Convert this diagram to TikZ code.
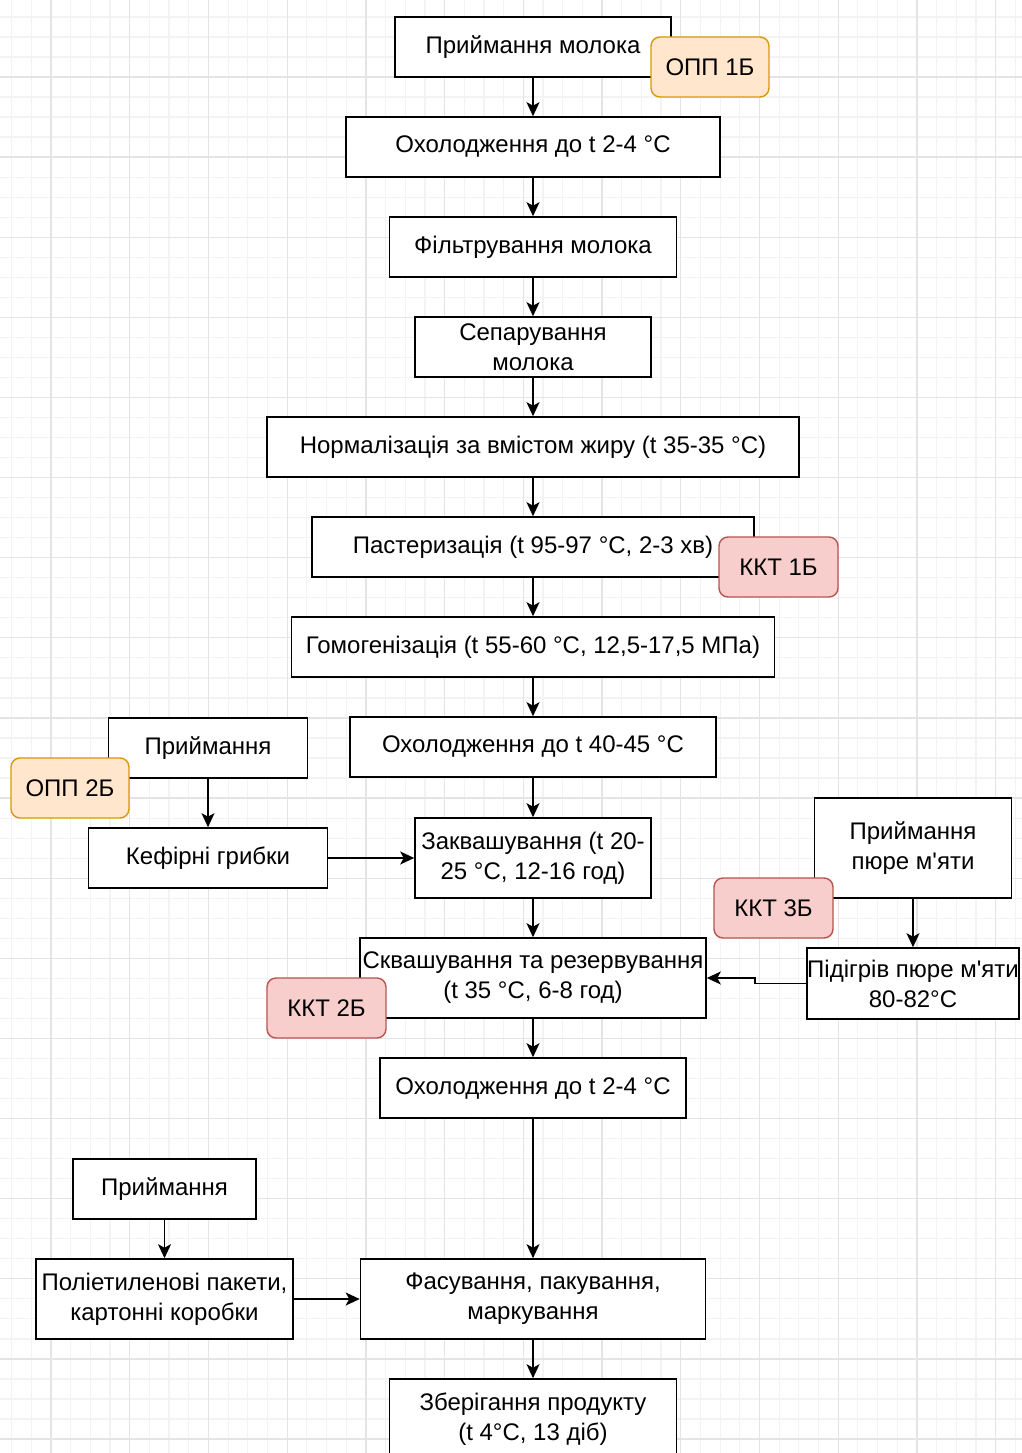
\documentclass[tikz,border=0pt]{standalone}
\usepackage{fontspec}
\setmainfont{Liberation Sans}[Ligatures=TeXOff]
\usetikzlibrary{arrows.meta}
\definecolor{oppfill}{HTML}{FFE6CC}
\definecolor{oppdraw}{HTML}{D79B00}
\definecolor{kktfill}{HTML}{F8CECC}
\definecolor{kktdraw}{HTML}{B85450}
\definecolor{gridminor}{HTML}{F3F3F3}
\definecolor{gridmajor}{HTML}{E4E4E4}
\tikzset{
  stepbox/.style={draw=black, line width=1.6pt, fill=white, inner sep=0pt, align=center,
    font=\fontsize{24}{30}\selectfont},
  oppbox/.style={draw=oppdraw, fill=oppfill, line width=1.4pt, rounded corners=9pt,
    inner sep=0pt, minimum width=118pt, minimum height=60pt, font=\fontsize{24}{30}\selectfont},
  kktbox/.style={draw=kktdraw, fill=kktfill, line width=1.4pt, rounded corners=9pt,
    inner sep=0pt, minimum width=119pt, minimum height=60pt, font=\fontsize{24}{30}\selectfont},
  arr/.style={draw=black, line width=1.6pt, -{Stealth[length=14pt,width=13pt,inset=3.5pt]}},
}
\begin{document}
\begin{tikzpicture}[x=1pt,y=-1pt]
\useasboundingbox (0,0) rectangle (1022,1453);
\clip (0,0) rectangle (1022,1453);
\fill[white] (0,0) rectangle (1022,1453);
% grid
\foreach \i in {-2,...,49} {
  \pgfmathsetmacro\xx{51+19.68*\i}
  \draw[gridminor, line width=1.2pt] (\xx,0) -- (\xx,1453);
}
\foreach \i in {-3,...,69} {
  \pgfmathsetmacro\yy{77+20.03*\i}
  \draw[gridminor, line width=1.2pt] (0,\yy) -- (1022,\yy);
}
\foreach \i in {0,...,12} {
  \pgfmathsetmacro\xx{51+78.72*\i}
  \draw[gridmajor, line width=1.3pt] (\xx,0) -- (\xx,1453);
}
\foreach \i in {0,...,17} {
  \pgfmathsetmacro\yy{77+80.12*\i}
  \draw[gridmajor, line width=1.3pt] (0,\yy) -- (1022,\yy);
}

% main column
\node[stepbox, minimum width=276pt, minimum height=60pt] (a1) at (533,47) {Приймання молока};
\node[stepbox, minimum width=374pt, minimum height=60pt] (a2) at (533,147) {Охолодження до t 2-4 °C};
\node[stepbox, minimum width=287pt, minimum height=60pt] (a3) at (533,247) {Фільтрування молока};
\node[stepbox, minimum width=236pt, minimum height=60pt] (a4) at (533,347) {Сепарування\\молока};
\node[stepbox, minimum width=532pt, minimum height=60pt] (a5) at (533,447) {Нормалізація за вмістом жиру (t 35-35 °C)};
\node[stepbox, minimum width=442pt, minimum height=60pt] (a6) at (533,547) {Пастеризація (t 95-97 °C, 2-3 хв)};
\node[stepbox, minimum width=483pt, minimum height=60pt] (a7) at (533,647) {Гомогенізація (t 55-60 °C, 12,5-17,5 МПа)};
\node[stepbox, minimum width=366pt, minimum height=60pt] (a8) at (533,747) {Охолодження до t 40-45 °C};
\node[stepbox, minimum width=236pt, minimum height=80pt] (a9) at (533,858) {Заквашування (t 20-\\25 °C, 12-16 год)};
\node[stepbox, minimum width=346pt, minimum height=80pt] (a10) at (533,978) {Сквашування та резервування\\(t 35 °C, 6-8 год)};
\node[stepbox, minimum width=306pt, minimum height=60pt] (a11) at (533,1088) {Охолодження до t 2-4 °C};
\node[stepbox, minimum width=345pt, minimum height=80pt] (a12) at (533,1299) {Фасування, пакування,\\маркування};
\node[stepbox, minimum width=287pt, minimum height=80pt] (a13) at (533,1419) {Зберігання продукту\\(t 4°C, 13 діб)};

% left branch (kefir)
\node[stepbox, minimum width=199pt, minimum height=60pt] (b1) at (208,748) {Приймання};
\node[stepbox, minimum width=239pt, minimum height=60pt] (b2) at (208,858) {Кефірні грибки};

% right branch (mint)
\node[stepbox, minimum width=197pt, minimum height=100pt] (c1) at (913,848) {Приймання\\пюре м'яти};
\node[stepbox, minimum width=212pt, minimum height=71pt] (c2) at (913,983.5) {Підігрів пюре м'яти\\80-82°C};

% packaging branch
\node[stepbox, minimum width=183pt, minimum height=60pt] (d1) at (164.5,1189) {Приймання};
\node[stepbox, minimum width=257pt, minimum height=80pt] (d2) at (164.5,1299) {Поліетиленові пакети,\\картонні коробки};

% connectors
\draw[arr] (a1) -- (a2);
\draw[arr] (a2) -- (a3);
\draw[arr] (a3) -- (a4);
\draw[arr] (a4) -- (a5);
\draw[arr] (a5) -- (a6);
\draw[arr] (a6) -- (a7);
\draw[arr] (a7) -- (a8);
\draw[arr] (a8) -- (a9);
\draw[arr] (a9) -- (a10);
\draw[arr] (a10) -- (a11);
\draw[arr] (a11) -- (a12);
\draw[arr] (a12) -- (a13);
\draw[arr] (b1) -- (b2);
\draw[arr] (b2.east) -- (a9.west |- b2.east);
\draw[arr] (c1) -- (c2);
\draw[arr] (c2.west) -- ++(-51,0) |- (a10.east);
\draw[arr] (d1) -- (d2);
\draw[arr] (d2.east) -- (a12.west);

% badges
\node[oppbox] (o1) at (710,67) {ОПП 1Б};
\node[oppbox] (o2) at (70,788) {ОПП 2Б};
\node[kktbox] (k1) at (778.5,567) {ККТ 1Б};
\node[kktbox] (k2) at (326.5,1008) {ККТ 2Б};
\node[kktbox] (k3) at (773.5,908) {ККТ 3Б};
\end{tikzpicture}
\end{document}
